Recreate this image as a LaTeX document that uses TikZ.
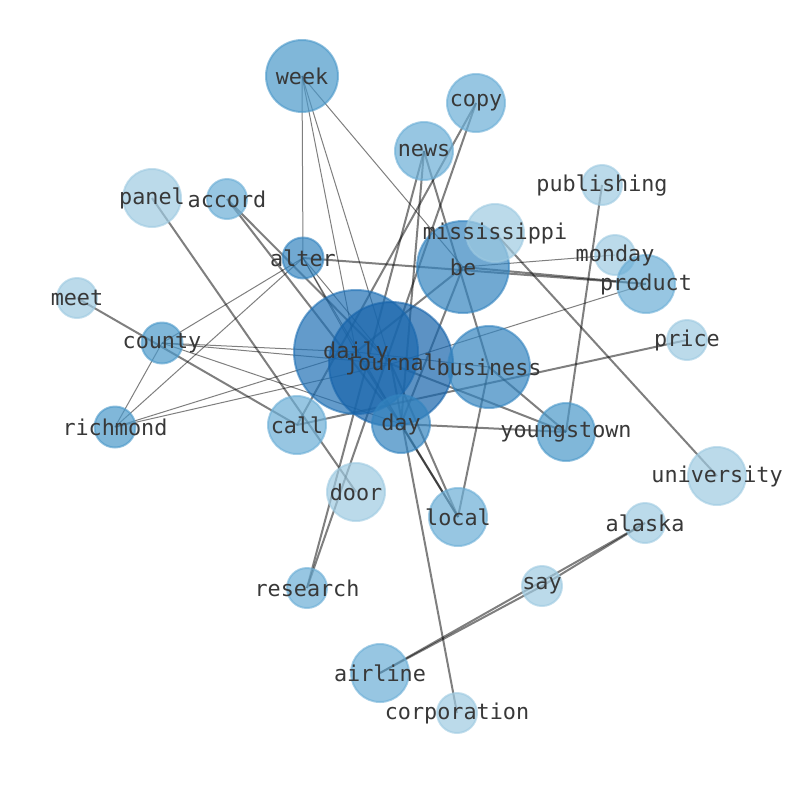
\documentclass[tikz,border=0pt]{standalone}
\usepackage{fontspec}
\setmonofont{DejaVu Sans Mono}
\definecolor{cA}{HTML}{9ECAE1}
\definecolor{cB}{HTML}{6BAED6}
\definecolor{cC}{HTML}{4A98C9}
\definecolor{cD}{HTML}{3484BF}
\definecolor{cE}{HTML}{2171B5}
\definecolor{cF}{HTML}{1764AB}
\definecolor{labelgray}{HTML}{383838}
\begin{document}
\begin{tikzpicture}[x=1pt,y=-1pt,
  ethin/.style={draw=black, draw opacity=0.5, line width=1pt},
  ethick/.style={draw=black, draw opacity=0.5, line width=2pt},
  bub/.style={circle, inner sep=0pt, fill opacity=0.7, draw opacity=0.6, line width=2pt},
  lbl/.style={font=\fontsize{21.8}{22}\selectfont\ttfamily, text=labelgray, inner sep=0pt}
]
\useasboundingbox (0,0) rectangle (794,790);
% positions
\coordinate (week) at (302,76);
\coordinate (copy) at (476,103);
\coordinate (news) at (424,151);
\coordinate (publishing) at (602,185);
\coordinate (panel) at (152,198);
\coordinate (accord) at (227,199);
\coordinate (be) at (463,267);
\coordinate (mississippi) at (495,233);
\coordinate (alter) at (303,258);
\coordinate (monday) at (615,255);
\coordinate (product) at (646,284);
\coordinate (meet) at (77,298);
\coordinate (county) at (162,343);
\coordinate (price) at (687,340);
\coordinate (daily) at (356,352);
\coordinate (journal) at (391,364);
\coordinate (business) at (489,367);
\coordinate (richmond) at (115,427);
\coordinate (call) at (297,425);
\coordinate (day) at (401,424);
\coordinate (youngstown) at (566,432);
\coordinate (university) at (717,476);
\coordinate (door) at (356,492);
\coordinate (local) at (458,517);
\coordinate (alaska) at (645,523);
\coordinate (say) at (542,586);
\coordinate (research) at (307,588);
\coordinate (airline) at (380,673);
\coordinate (corporation) at (457,713);
% thin edges
\draw[ethin] (week) -- (alter);
\draw[ethin] (week) -- (daily);
\draw[ethin] (week) -- (journal);
\draw[ethin] (week) -- (be);
\draw[ethin] (alter) -- (county);
\draw[ethin] (alter) -- (richmond);
\draw[ethin] (alter) -- (daily);
\draw[ethin] (alter) -- (journal);
\draw[ethin] (alter) -- (day);
\draw[ethin] (county) -- (richmond);
\draw[ethin] (county) -- (daily);
\draw[ethin] (county) -- (journal);
\draw[ethin] (county) -- (day);
\draw[ethin] (richmond) -- (daily);
\draw[ethin] (richmond) -- (journal);
\draw[ethin] (be) -- (monday);
\draw[ethin] (journal) -- (product);
\draw[ethin] (daily) -- (business);
% thick edges
\draw[ethick] (alter) -- (product);
\draw[ethick] (be) -- (product);
\draw[ethick] (accord) -- (journal);
\draw[ethick] (accord) -- (day);
\draw[ethick] (panel) -- (door);
\draw[ethick] (meet) -- (call);
\draw[ethick] (call) -- (price);
\draw[ethick] (copy) -- (research);
\draw[ethick] (copy) -- (call);
\draw[ethick] (news) -- (research);
\draw[ethick] (news) -- (day);
\draw[ethick] (news) -- (business);
\draw[ethick] (business) -- (youngstown);
\draw[ethick] (business) -- (local);
\draw[ethick] (day) -- (youngstown);
\draw[ethick] (day) -- (local);
\draw[ethick] (daily) -- (local);
\draw[ethick] (journal) -- (local);
\draw[ethick] (mississippi) -- (university);
\draw[ethick] (publishing) -- (youngstown);
\draw[ethick] (say) -- (alaska);
\draw[ethick] (airline) -- (say);
\draw[ethick] (airline) -- (alaska);
\draw[ethick] (journal) -- (corporation);
\draw[ethick] (be) -- (day);
\draw[ethick] (be) -- (daily);
\draw[ethick] (journal) -- (youngstown);
% bubbles
\node[bub, fill=cC, draw=cC, minimum size=72pt] (n-week) at (week) {};
\node[bub, fill=cB, draw=cB, minimum size=58pt] (n-copy) at (copy) {};
\node[bub, fill=cB, draw=cB, minimum size=58pt] (n-news) at (news) {};
\node[bub, fill=cA, draw=cA, minimum size=40pt] (n-publishing) at (publishing) {};
\node[bub, fill=cA, draw=cA, minimum size=58pt] (n-panel) at (panel) {};
\node[bub, fill=cB, draw=cB, minimum size=40pt] (n-accord) at (accord) {};
\node[bub, fill=cD, draw=cD, minimum size=92pt] (n-be) at (be) {};
\node[bub, fill=cA, draw=cA, minimum size=58pt] (n-mississippi) at (mississippi) {};
\node[bub, fill=cD, draw=cD, minimum size=41pt] (n-alter) at (alter) {};
\node[bub, fill=cA, draw=cA, minimum size=40pt] (n-monday) at (monday) {};
\node[bub, fill=cB, draw=cB, minimum size=58pt] (n-product) at (product) {};
\node[bub, fill=cA, draw=cA, minimum size=40pt] (n-meet) at (meet) {};
\node[bub, fill=cC, draw=cC, minimum size=41pt] (n-county) at (county) {};
\node[bub, fill=cA, draw=cA, minimum size=40pt] (n-price) at (price) {};
\node[bub, fill=cE, draw=cE, minimum size=124pt] (n-daily) at (daily) {};
\node[bub, fill=cF, draw=cF, minimum size=124pt] (n-journal) at (journal) {};
\node[bub, fill=cD, draw=cD, minimum size=82pt] (n-business) at (business) {};
\node[bub, fill=cC, draw=cC, minimum size=41pt] (n-richmond) at (richmond) {};
\node[bub, fill=cB, draw=cB, minimum size=58pt] (n-call) at (call) {};
\node[bub, fill=cD, draw=cD, minimum size=58pt] (n-day) at (day) {};
\node[bub, fill=cC, draw=cC, minimum size=58pt] (n-youngstown) at (youngstown) {};
\node[bub, fill=cA, draw=cA, minimum size=58pt] (n-university) at (university) {};
\node[bub, fill=cA, draw=cA, minimum size=58pt] (n-door) at (door) {};
\node[bub, fill=cB, draw=cB, minimum size=58pt] (n-local) at (local) {};
\node[bub, fill=cA, draw=cA, minimum size=40pt] (n-alaska) at (alaska) {};
\node[bub, fill=cA, draw=cA, minimum size=40pt] (n-say) at (say) {};
\node[bub, fill=cB, draw=cB, minimum size=40pt] (n-research) at (research) {};
\node[bub, fill=cB, draw=cB, minimum size=58pt] (n-airline) at (airline) {};
\node[bub, fill=cA, draw=cA, minimum size=40pt] (n-corporation) at (corporation) {};
% labels
\node[lbl] (t-week) at (week) {week};
\node[lbl] (t-copy) at (copy) {copy};
\node[lbl] (t-news) at (news) {news};
\node[lbl] (t-publishing) at (publishing) {publishing};
\node[lbl] (t-panel) at (panel) {panel};
\node[lbl] (t-accord) at (accord) {accord};
\node[lbl] (t-be) at (be) {be};
\node[lbl] (t-mississippi) at (mississippi) {mississippi};
\node[lbl] (t-alter) at (alter) {alter};
\node[lbl] (t-monday) at (monday) {monday};
\node[lbl] (t-product) at (product) {product};
\node[lbl] (t-meet) at (meet) {meet};
\node[lbl] (t-county) at (county) {county};
\node[lbl] (t-price) at (price) {price};
\node[lbl] (t-daily) at (daily) {daily};
\node[lbl] (t-journal) at (journal) {journal};
\node[lbl] (t-business) at (business) {business};
\node[lbl] (t-richmond) at (richmond) {richmond};
\node[lbl] (t-call) at (call) {call};
\node[lbl] (t-day) at (day) {day};
\node[lbl] (t-youngstown) at (youngstown) {youngstown};
\node[lbl] (t-university) at (university) {university};
\node[lbl] (t-door) at (door) {door};
\node[lbl] (t-local) at (local) {local};
\node[lbl] (t-alaska) at (alaska) {alaska};
\node[lbl] (t-say) at (say) {say};
\node[lbl] (t-research) at (research) {research};
\node[lbl] (t-airline) at (airline) {airline};
\node[lbl] (t-corporation) at (corporation) {corporation};
\end{tikzpicture}
\end{document}
